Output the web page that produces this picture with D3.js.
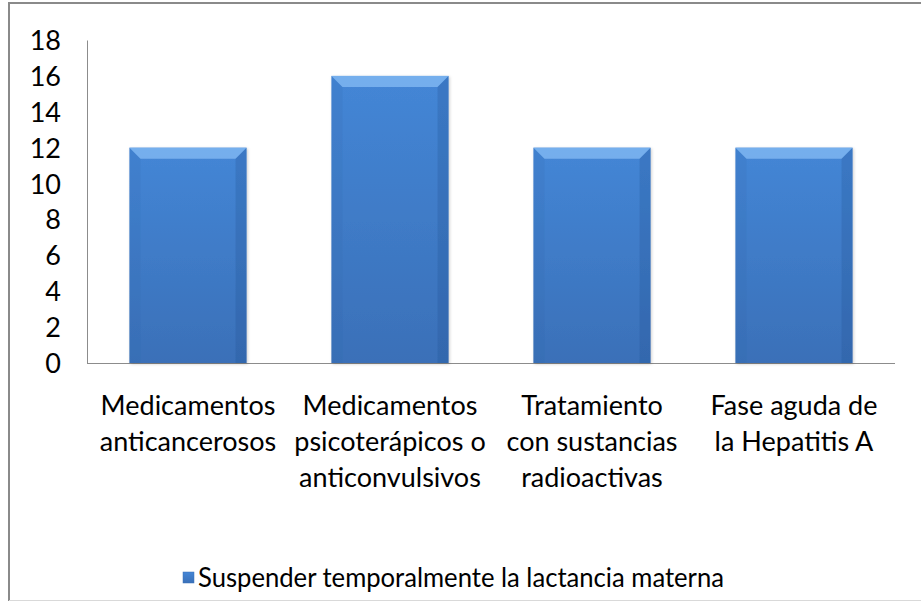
<!DOCTYPE html>
<html>
<head>
<meta charset="utf-8">
<script src="https://cdn.jsdelivr.net/npm/d3@7"></script>
<style>
  body { margin: 0; background: #fff; }
  text { font-family: Lato, "Open Sans", sans-serif; fill: #000; }
</style>
</head>
<body>
<div id="chart"></div>
<script>
// data
var categories = [
    ["Medicamentos", "anticancerosos"],
    ["Medicamentos", "psicoterápicos o", "anticonvulsivos"],
    ["Tratamiento", "con sustancias", "radioactivas"],
    ["Fase aguda de", "la Hepatitis A"]
];
var values = [12, 16, 12, 12];
var yTicks = [0, 2, 4, 6, 8, 10, 12, 14, 16, 18];
var seriesName = "Suspender temporalmente la lactancia materna";

var width = 921, height = 601;
var margin = { top: 40, left: 87, right: 26 };
var fontSize = 27;

var svg = d3.select("#chart").append("svg")
    .attr("width", width)
    .attr("height", height);

// outer frame
svg.append("line").attr("x1", 9).attr("x2", width).attr("y1", 3).attr("y2", 3)
    .attr("stroke", "#8a8a8a").attr("stroke-width", 2);
svg.append("line").attr("x1", 9).attr("x2", 9).attr("y1", 2).attr("y2", height)
    .attr("stroke", "#8a8a8a").attr("stroke-width", 2);
svg.append("line").attr("x1", 9).attr("x2", width).attr("y1", 600.5).attr("y2", 600.5)
    .attr("stroke", "#d9d9d9").attr("stroke-width", 1);

var x = d3.scaleBand()
    .domain(d3.range(categories.length))
    .range([margin.left, width - margin.right])
    .paddingInner(0.42)
    .paddingOuter(0.21);

var y = d3.scaleLinear()
    .domain([0, 18])
    .range([363, margin.top]);

var defs = svg.append("defs");
var grad = defs.append("linearGradient").attr("id", "barGrad")
    .attr("x1", 0).attr("y1", 0).attr("x2", 0).attr("y2", 1);
grad.append("stop").attr("offset", "0%").attr("stop-color", "#4486d6");
grad.append("stop").attr("offset", "100%").attr("stop-color", "#3a70b8");

var shadow = defs.append("filter").attr("id", "shadow")
    .attr("x", "-10%").attr("y", "-10%").attr("width", "130%").attr("height", "130%");
shadow.append("feDropShadow").attr("dx", 1).attr("dy", 1).attr("stdDeviation", 1.5)
    .attr("flood-color", "#000").attr("flood-opacity", 0.2);

// axes
var yAxis = svg.append("g")
    .attr("transform", "translate(" + margin.left + ",0)")
    .call(d3.axisLeft(y).tickValues(yTicks).tickSize(0).tickPadding(26));
yAxis.select(".domain").attr("stroke", "#8c8c8c");
yAxis.selectAll("text")
    .style("font-size", fontSize + "px")
    .attr("dy", "0.35em");

var xAxis = svg.append("g")
    .attr("transform", "translate(0," + y(0) + ")")
    .call(d3.axisBottom(x).tickSize(0).tickFormat(""));
xAxis.select(".domain").attr("stroke", "#8c8c8c")
    .attr("d", "M" + margin.left + ",0.5H" + (width - margin.right));

// bars with bevel
var bev = 11;
var bars = svg.selectAll(".bar").data(values).enter().append("g")
    .attr("class", "bar")
    .attr("filter", "url(#shadow)");

bars.append("rect")
    .attr("x", function(d, i) { return x(i); })
    .attr("y", function(d) { return y(d); })
    .attr("width", x.bandwidth())
    .attr("height", function(d) { return y(0) - y(d); })
    .attr("fill", "url(#barGrad)");

function bevelPoly(sel, fn, color, op) {
    sel.append("polygon")
        .attr("points", fn)
        .attr("fill", color)
        .attr("fill-opacity", op);
}
bevelPoly(bars, function(d, i) {
    var x0 = x(i), x1 = x(i) + x.bandwidth(), t = y(d);
    return [[x0, t], [x1, t], [x1 - bev, t + bev], [x0 + bev, t + bev]].join(" ");
}, "#86bcf4", 0.75);
bevelPoly(bars, function(d, i) {
    var x0 = x(i), t = y(d), b = y(0);
    return [[x0, t], [x0 + bev, t + bev], [x0 + bev, b], [x0, b]].join(" ");
}, "#2f63a8", 0.15);
bevelPoly(bars, function(d, i) {
    var x1 = x(i) + x.bandwidth(), t = y(d), b = y(0);
    return [[x1, t], [x1 - bev, t + bev], [x1 - bev, b], [x1, b]].join(" ");
}, "#1f4f8f", 0.25);

// category labels
var labels = svg.selectAll(".cat").data(categories).enter().append("text")
    .attr("class", "cat")
    .attr("text-anchor", "middle")
    .style("font-size", fontSize + "px")
    .attr("x", function(d, i) { return x(i) + x.bandwidth() / 2; })
    .attr("y", 415);
labels.selectAll("tspan").data(function(d) { return d; }).enter().append("tspan")
    .attr("x", function() { return d3.select(this.parentNode).attr("x"); })
    .attr("dy", function(d, i) { return i === 0 ? 0 : 36; })
    .text(function(d) { return d; });

// legend
var legend = svg.append("g").attr("transform", "translate(183,572)");
legend.append("rect").attr("width", 11).attr("height", 11)
    .attr("fill", "url(#barGrad)").attr("stroke", "#3a70b8").attr("stroke-width", 0.5);
legend.append("text")
    .attr("x", 15).attr("y", 6)
    .attr("dy", "0.35em")
    .style("font-size", "26px")
    .attr("textLength", 526)
    .attr("lengthAdjust", "spacingAndGlyphs")
    .text(seriesName);
</script>
</body>
</html>
